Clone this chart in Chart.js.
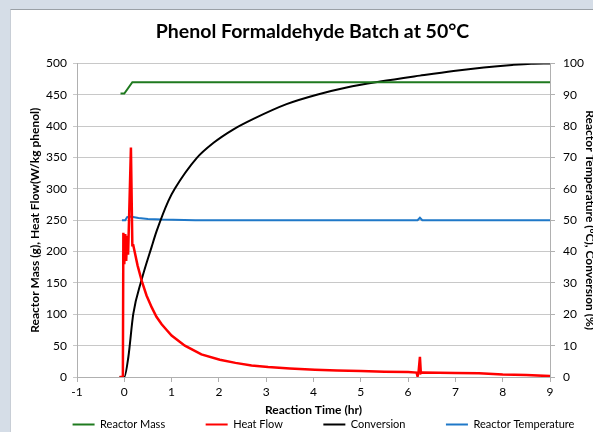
<!DOCTYPE html>
<html>
<head>
<meta charset="utf-8">
<script src="https://cdn.jsdelivr.net/npm/chart.js@4.4.0/dist/chart.umd.min.js"></script>
<style>
  html, body { margin: 0; padding: 0; overflow: hidden; background: #d5dde7; width: 593px; height: 432px; }
  #panel { position: absolute; left: 10px; top: 9px; width: 620px; height: 440px; background: #fff; border-top: 1px solid #9aa0a6; border-left: 1px solid #c8ced6; }
  #myChart { display: block; }
</style>
</head>
<body>
<div id="panel"><canvas id="myChart" width="620" height="440"></canvas></div>
<script>
const massTime = [-0.08, 0.0, 0.17, 9]
const massValues = [452, 452, 470, 470]

const heatTime = [-0.1, -0.03, -0.02, 0.0, 0.02, 0.04, 0.06, 0.08, 0.1, 0.14, 0.17, 0.19, 0.28, 0.37, 0.47, 0.58, 0.68, 0.79, 0.9, 1.0, 1.28, 1.63, 2.02, 2.35, 2.69, 3.04, 3.5, 4.03, 4.5, 5, 5.5, 6, 6.18, 6.2, 6.22, 6.25, 6.27, 6.3, 7, 7.5, 8, 8.5, 9]
const heatValues = [0, 0, 230, 180, 228, 185, 225, 195, 250, 366, 210, 210, 178, 153, 130, 111, 96, 84, 74.5, 66, 50, 36, 27.5, 22.5, 18.5, 15.8, 13.5, 11.7, 10.5, 9.5, 8.5, 8, 7, 1, 7, 32, 6, 7, 6.5, 6, 4, 3, 1.5]

const convTime = [-0.1, 0, 0.085, 0.19, 0.366, 0.578, 0.683, 0.93, 1.07, 1.53, 1.88, 2.3, 2.73, 3.43, 4.07, 4.7, 5.41, 6.25, 6.96, 7.6, 8.2, 8.6, 9]
const convValues = [0, 0, 6.3, 20.1, 31, 41.5, 46.5, 56.1, 60.1, 69.8, 74.6, 78.9, 82.3, 87, 90, 92.3, 94.2, 96.1, 97.6, 98.7, 99.5, 99.9, 100]

const tempTime = [-0.05, 0.02, 0.06, 0.13, 0.3, 0.5, 0.8, 1.5, 6.2, 6.25, 6.3, 9]
const tempValues = [50, 50, 51, 51.2, 50.7, 50.4, 50.2, 50, 50, 50.8, 50, 50]

function toPoints(xs, ys) {
    return xs.map((x, i) => ({ x: x, y: ys[i] }))
}

const fontFamily = 'Lato, "Open Sans", sans-serif'
Chart.defaults.font.family = fontFamily
Chart.defaults.color = '#000'

// Excel spaces the legend entries widely; pad the label text to get the gap
const legendGap = '\u2003\u2003\u2003\u2003\u2002'

// nudge the legend a bit right, like the Excel one
const legendShift = {
    id: 'legendShift',
    afterLayout(chart) {
        chart.legend.left += 11
        chart.legend.right += 11
    }
}

let ctx = document.getElementById('myChart')
let myChart = new Chart(ctx, {
    type: 'line',
    data: {
        datasets: [
            {
                label: 'Reactor Mass',
                data: toPoints(massTime, massValues),
                borderColor: '#1f7a1f',
                backgroundColor: '#1f7a1f',
                yAxisID: 'y',
            },
            {
                label: 'Heat Flow',
                data: toPoints(heatTime, heatValues),
                borderColor: '#ff0000',
                backgroundColor: '#ff0000',
                borderWidth: 2.5,
                yAxisID: 'y',
            },
            {
                label: 'Conversion',
                data: toPoints(convTime, convValues),
                borderColor: '#000000',
                backgroundColor: '#000000',
                cubicInterpolationMode: 'monotone',
                yAxisID: 'y1',
            },
            {
                label: 'Reactor Temperature',
                data: toPoints(tempTime, tempValues),
                borderColor: '#1f78c8',
                backgroundColor: '#1f78c8',
                yAxisID: 'y1',
            }
        ]
    },
    plugins: [legendShift],
    options: {
        responsive: false,
        animation: false,
        devicePixelRatio: 1,
        elements: {
            point: { radius: 0 },
            line: { borderWidth: 2, tension: 0 },
        },
        layout: {
            padding: { left: 13, right: 30, top: 10, bottom: 10 },
        },
        plugins: {
            title: {
                display: true,
                text: 'Phenol Formaldehyde Batch at 50°C',
                font: { size: 19.5, weight: 'bold' },
                color: '#000',
                padding: { top: 0, bottom: 20 },
            },
            legend: {
                position: 'bottom',
                labels: {
                    usePointStyle: true,
                    pointStyle: 'line',
                    pointStyleWidth: 22,
                    padding: 2,
                    font: { size: 11 },
                    color: '#000',
                    generateLabels: (chart) => {
                        return chart.data.datasets.map((ds, i) => ({
                            text: i < chart.data.datasets.length - 1 ? ds.label + legendGap : ds.label,
                            fillStyle: ds.borderColor,
                            strokeStyle: ds.borderColor,
                            lineWidth: 2,
                            pointStyle: 'line',
                            fontColor: '#000',
                            hidden: false,
                            datasetIndex: i,
                        }))
                    },
                },
            },
            tooltip: { enabled: false },
        },
        scales: {
            x: {
                type: 'linear',
                min: -1,
                max: 9,
                ticks: { stepSize: 1, font: { size: 12 }, color: '#000', padding: 3, maxRotation: 0 },
                grid: { display: true, drawOnChartArea: false, tickLength: 5, color: '#b0b0b0' },
                border: { color: '#b0b0b0' },
                title: { display: true, text: 'Reaction Time (hr)', font: { size: 12, weight: 'bold' }, padding: { top: 0, bottom: 0 } },
                afterFit: (scale) => { scale.height = 40 },
            },
            y: {
                min: 0,
                max: 500,
                ticks: { stepSize: 50, font: { size: 12 }, color: '#000', padding: 6 },
                grid: { color: '#c8c8c8', tickLength: 4 },
                border: { color: '#b0b0b0' },
                title: { display: true, text: 'Reactor Mass (g), Heat Flow(W/kg phenol)', font: { size: 12, weight: 'bold' }, padding: { top: 4, bottom: 4 } },
                afterFit: (scale) => { scale.width = 53 },
            },
            y1: {
                position: 'right',
                min: 0,
                max: 100,
                ticks: { stepSize: 10, font: { size: 12 }, color: '#000', padding: 8 },
                grid: { drawOnChartArea: false, tickLength: 5, color: '#b0b0b0' },
                border: { color: '#b0b0b0' },
                title: { display: true, text: 'Reactor Temperature (°C), Conversion (%)', font: { size: 12, weight: 'bold' }, padding: { top: 4, bottom: 4 } },
                afterFit: (scale) => { scale.width = 51 },
            },
        }
    },
});

myChart.draw()
</script>
</body>
</html>
